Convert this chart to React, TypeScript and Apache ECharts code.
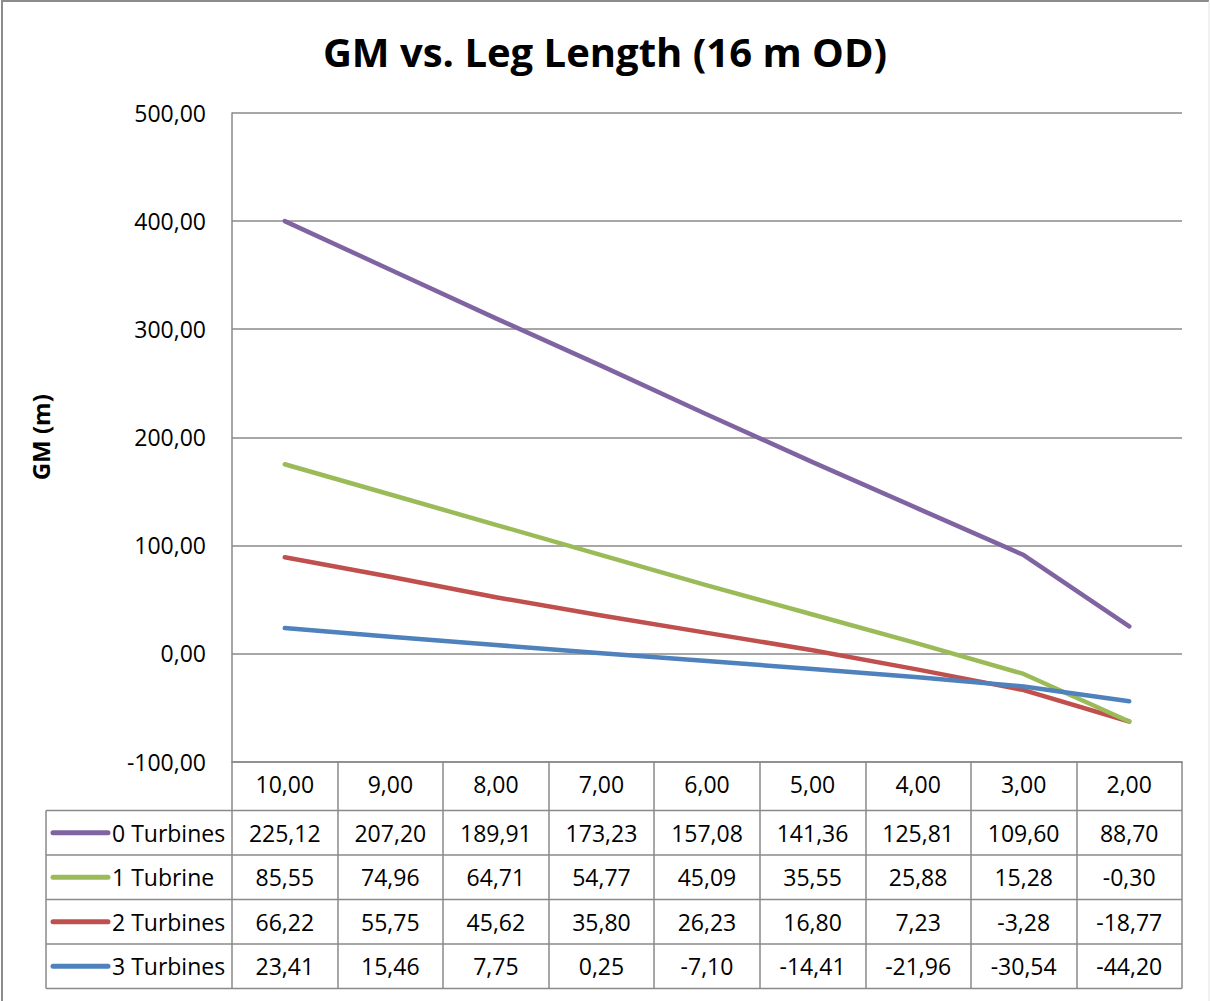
import React, { useEffect, useRef } from "react";
import * as echarts from "echarts";

// Categories (leg length, m)
const legLengths = ["10,00", "9,00", "8,00", "7,00", "6,00", "5,00", "4,00", "3,00", "2,00"];
const seriesNames = ["0 Turbines", "1 Tubrine", "2 Turbines", "3 Turbines"];
const seriesColors = ["#8064A2", "#9BBB59", "#C0504D", "#4F81BD"];

// Plotted lines
const plot0Turbines = [400, 355, 310, 266, 221, 177, 134, 91, 25];
const plot1Turbine = [175, 147, 119, 91, 63, 36, 9, -19, -63];
const plot2Turbines = [89, 71, 52, 35, 19, 3, -15, -34, -63];
const plot3Turbines = [23.41, 15.46, 7.75, 0.25, -7.1, -14.41, -21.96, -30.54, -44.2];

// Data table values (as printed)
const table0Turbines = [225.12, 207.2, 189.91, 173.23, 157.08, 141.36, 125.81, 109.6, 88.7];
const table1Turbine = [85.55, 74.96, 64.71, 54.77, 45.09, 35.55, 25.88, 15.28, -0.3];
const table2Turbines = [66.22, 55.75, 45.62, 35.8, 26.23, 16.8, 7.23, -3.28, -18.77];
const table3Turbines = [23.41, 15.46, 7.75, 0.25, -7.1, -14.41, -21.96, -30.54, -44.2];

const yMin = -100;
const yMax = 500;
const yStep = 100;

const FONT = "Open Sans";
const GRID_COLOR = "#8a8a8a";
const fmt = (v: number) => v.toFixed(2).replace(".", ",");

export default function App() {
  const ref = useRef<HTMLDivElement>(null);
  useEffect(() => {
    if (!ref.current) return;
    const chart = echarts.init(ref.current, null, { renderer: "svg" });
    const plots = [plot0Turbines, plot1Turbine, plot2Turbines, plot3Turbines];
    const tables = [table0Turbines, table1Turbine, table2Turbines, table3Turbines];

    const gridLeft = 232;
    const gridRight = 28;
    const gridTop = 113;
    const gridBottom = 239.5;
    const tableTop = 1001 - gridBottom;
    const headerH = 49;
    const rowH = 44.5;
    const tableBottom = tableTop + headerH + rowH * 4;
    const legendLeft = 46;

    const zOrder = [2, 4, 3, 5];

    const option: any = {
      animation: false,
      backgroundColor: "#ffffff",
      title: {
        text: "GM vs. Leg Length (16 m OD)",
        left: "center",
        top: 26,
        textStyle: { fontFamily: FONT, fontSize: 40, fontWeight: "bold", color: "#000" },
      },
      grid: { left: gridLeft, right: gridRight, top: gridTop, bottom: gridBottom, containLabel: false },
      xAxis: {
        type: "category",
        data: legLengths,
        boundaryGap: true,
        axisLine: { show: true, onZero: false, lineStyle: { color: GRID_COLOR, width: 1.5 } },
        axisTick: {
          show: true,
          length: tableBottom - tableTop,
          lineStyle: { color: GRID_COLOR, width: 1.5 },
        },
        axisLabel: { fontFamily: FONT, fontSize: 23, color: "#000", margin: 11 },
        splitLine: { show: false },
      },
      yAxis: {
        type: "value",
        min: yMin,
        max: yMax,
        interval: yStep,
        name: "GM (m)",
        nameLocation: "middle",
        nameRotate: 90,
        nameGap: 180,
        nameTextStyle: { fontFamily: FONT, fontSize: 24, fontWeight: "bold", color: "#000" },
        axisLine: { show: true, lineStyle: { color: GRID_COLOR, width: 1.5 } },
        axisTick: { show: false },
        axisLabel: { fontFamily: FONT, fontSize: 23, color: "#000", margin: 26, formatter: (v: number) => fmt(v) },
        splitLine: { show: true, lineStyle: { color: GRID_COLOR, width: 1.5 } },
      },
      series: plots.map((d, i) => ({
        type: "line",
        name: seriesNames[i],
        data: d,
        showSymbol: false,
        symbol: "none",
        z: zOrder[i],
        lineStyle: { color: seriesColors[i], width: 4.5, cap: "round", join: "round" },
        itemStyle: { color: seriesColors[i] },
      })),
    };
    chart.setOption(option);

    const xs = legLengths.map((_, i) => chart.convertToPixel({ xAxisIndex: 0 }, i) as number);
    const gridRightX = 1210 - gridRight;
    const elements: any[] = [];
    // outer border
    elements.push({ type: "line", shape: { x1: 1, y1: 1, x2: 1209, y2: 1 }, style: { stroke: "#8c8c8c", lineWidth: 2 } });
    elements.push({ type: "line", shape: { x1: 2, y1: 1, x2: 2, y2: 1001 }, style: { stroke: "#8c8c8c", lineWidth: 2 } });
    elements.push({ type: "line", shape: { x1: 1209, y1: 1, x2: 1209, y2: 1001 }, style: { stroke: "#e2e2e2", lineWidth: 1 } });
    // table horizontal lines
    for (let r = 0; r <= 4; r++) {
      const y = tableTop + headerH + r * rowH;
      elements.push({ type: "line", shape: { x1: legendLeft, y1: y, x2: gridRightX, y2: y }, style: { stroke: GRID_COLOR, lineWidth: 1.5 } });
    }
    elements.push({
      type: "line",
      shape: { x1: legendLeft, y1: tableTop + headerH, x2: legendLeft, y2: tableBottom },
      style: { stroke: GRID_COLOR, lineWidth: 1.5 },
    });
    // table rows
    tables.forEach((row, r) => {
      const cy = tableTop + headerH + r * rowH + rowH / 2;
      elements.push({
        type: "line",
        shape: { x1: legendLeft + 7, y1: cy, x2: legendLeft + 62, y2: cy },
        style: { stroke: seriesColors[r], lineWidth: 5, lineCap: "round" },
      });
      elements.push({
        type: "text",
        x: legendLeft + 66,
        y: cy,
        style: { text: seriesNames[r], fontFamily: FONT, fontSize: 23, fill: "#000", align: "left", verticalAlign: "middle" },
      });
      row.forEach((v, c) => {
        elements.push({
          type: "text",
          x: xs[c],
          y: cy,
          style: { text: fmt(v), fontFamily: FONT, fontSize: 23, fill: "#000", align: "center", verticalAlign: "middle" },
        });
      });
    });
    chart.setOption({ graphic: { elements } });

    return () => chart.dispose();
  }, []);
  return (
    <div
      ref={ref}
      style={{ position: "fixed", left: 0, top: 0, width: 1210, height: 1001, background: "#fff" }}
    />
  );
}
